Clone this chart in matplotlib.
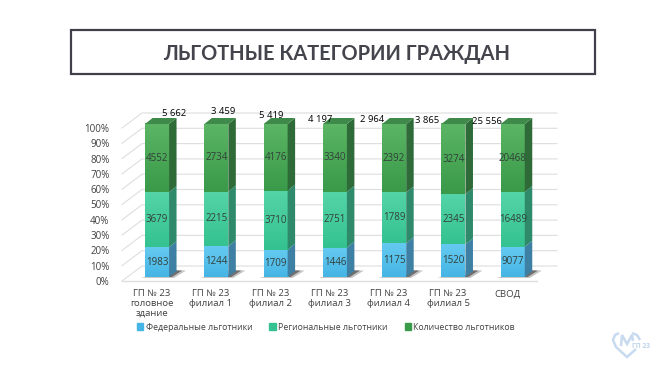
import matplotlib
matplotlib.use('Agg')
import matplotlib.pyplot as plt
import numpy as np
from matplotlib.colors import LinearSegmentedColormap
from matplotlib.patches import Patch, Polygon, Rectangle, PathPatch
from matplotlib.path import Path

plt.rcParams['font.family'] = ['Open Sans', 'DejaVu Sans']

W, H = 657, 369

# data
categories = ['ГП № 23\nголовное\nздание', 'ГП № 23\nфилиал 1', 'ГП № 23\nфилиал 2',
              'ГП № 23\nфилиал 3', 'ГП № 23\nфилиал 4', 'ГП № 23\nфилиал 5', 'СВОД']
federal = [1983, 1244, 1709, 1446, 1175, 1520, 9077]
regional = [3679, 2215, 3710, 2751, 1789, 2345, 16489]
total = [4552, 2734, 4176, 3340, 2392, 3274, 20468]
sum_labels = ['5 662', '3 459', '5 419', '4 197', '2 964', '3 865', '25 556']
series_names = ['Федеральные льготники', 'Региональные льготники', 'Количество льготников']

# hand placed boxes of the sum labels, pixels
sum_xy = [(174, 113), (223, 112), (271, 115), (320, 119), (372, 120), (427, 120.5), (487, 121)]

# top colour, bottom colour, side colour
styles = [('#66caf0', '#45b5e5', '#3d80a4'),
          ('#55d4a8', '#34c290', '#2f8a6c'),
          ('#5bb564', '#399a49', '#2f6b38')]
cap_color = '#3f8a4a'
text_color = '#404040'
grid_color = '#dedede'

fig = plt.figure(figsize=(W / 100, H / 100), dpi=100, facecolor='white')
ax = fig.add_axes([122 / W, 1 - 281 / H, 415 / W, 153 / H])
for s in ax.spines.values():
    s.set_visible(False)


def px(x, y):
    return x / W, 1 - y / H


# title box
fig.add_artist(Rectangle(px(71, 74), 524 / W, 44 / H, transform=fig.transFigure,
                         fc='white', ec='#40404a', lw=1.6))
fig.text(*px(337, 54), 'ЛЬГОТНЫЕ КАТЕГОРИИ ГРАЖДАН', fontsize=14.4, fontweight='bold',
         family=['Lato', 'DejaVu Sans'], color='#44444c', ha='center', va='center')

# depth of the 3d box in data units
unit_x = 415 / 7
unit_y = 153 / 100
wall_dx, wall_dy = 20 / unit_x, 15 / unit_y
bar_w = 24 / unit_x
bar_off_x, bar_off_y = 5.4 / unit_x, 4 / unit_y
dep_x, dep_y = 7.5 / unit_x, 6 / unit_y

# walls
x0, x1 = -0.5, 6.5
for t in range(0, 101, 10):
    ax.plot([x0, x0 + wall_dx, x1 + wall_dx], [t, t + wall_dy, t + wall_dy],
            color=grid_color, lw=0.8, clip_on=False, zorder=1)
ax.plot([x0, x1], [0, 0], color=grid_color, lw=1.0, clip_on=False, zorder=1)

# bars
for i in range(len(categories)):
    vals = np.array([federal[i], regional[i], total[i]], dtype=float)
    shares = vals / vals.sum() * 100
    left = i - bar_w / 2 + bar_off_x
    right = left + bar_w
    floor = bar_off_y

    # shadow on the floor, a dark core and a paler rim
    ax.add_patch(Polygon([(left - 4 / unit_x, floor - 0.6), (right + 5 / unit_x, floor - 0.6),
                          (right + 17 / unit_x, floor + 4.2), (right + 2 / unit_x, floor + 4.6)],
                         fc='#c4c4c4', ec='none', zorder=2, clip_on=False))
    ax.add_patch(Polygon([(right - 1 / unit_x, floor), (right + 3 / unit_x, floor),
                          (right + 13 / unit_x, floor + 4.2), (right + 3 / unit_x, floor + 4.4)],
                         fc='#6f6f6f', ec='none', zorder=2.5, clip_on=False))

    bottom = floor
    for j, h in enumerate(shares):
        c_top, c_bot, c_side = styles[j]
        top = bottom + h
        cmap = LinearSegmentedColormap.from_list('g', [c_top, c_bot])
        ax.imshow(np.linspace(0, 1, 64).reshape(-1, 1), cmap=cmap, aspect='auto',
                  extent=(left, right, bottom, top), origin='upper', zorder=3 + i * 0.1, clip_on=False)
        side = Polygon([(right, bottom), (right + dep_x, bottom + dep_y),
                        (right + dep_x, top + dep_y), (right, top)],
                       fc=c_side, ec='none', zorder=3 + i * 0.1, clip_on=False)
        ax.add_patch(side)
        ax.text((left + right) / 2, (bottom + top) / 2, str(int(vals[j])), ha='center', va='center',
                fontsize=7, color='#333f3a', zorder=5)
        bottom = top
    ax.add_patch(Polygon([(left, bottom), (right, bottom), (right + dep_x, bottom + dep_y),
                          (left + dep_x, bottom + dep_y)], fc=cap_color, ec='none',
                         zorder=3 + i * 0.1, clip_on=False))

for lab, (x, y) in zip(sum_labels, sum_xy):
    fig.text(*px(x, y), lab, fontsize=6.8, color='black', ha='center', va='center', zorder=6)

ax.set_xlim(x0, x1)
ax.set_ylim(0, 100)
ax.set_xticks(range(len(categories)))
ax.set_xticklabels(categories, fontsize=6.8, color=text_color, linespacing=1.1)
ax.set_yticks(range(0, 101, 10))
ax.set_yticklabels([f'{t}%' for t in range(0, 101, 10)], fontsize=7, color=text_color)
ax.tick_params(length=0)
ax.tick_params(axis='x', pad=6)
ax.tick_params(axis='y', pad=9)

handles = [Patch(color=styles[k][1], label=series_names[k]) for k in range(3)]
fig.legend(handles=handles, ncols=3, loc='center', bbox_to_anchor=px(326, 327), frameon=False,
           fontsize=6.3, labelcolor=text_color, handlelength=0.7, handleheight=0.7,
           handletextpad=0.3, columnspacing=1.95, borderpad=0)

# logo
logo_parts = [[(636, 349), (627, 357), (616, 347), (613, 340), (615, 335), (619, 333)],
              [(621, 346), (622, 335), (627, 344), (632, 335), (633, 341)],
              [(632, 333), (637, 335), (640, 340)]]
for part in logo_parts:
    codes = [Path.MOVETO] + [Path.LINETO] * (len(part) - 1)
    fig.add_artist(PathPatch(Path([px(*p) for p in part], codes), transform=fig.transFigure,
                             fc='none', ec='#c8daf0', lw=1.8))
fig.text(*px(641, 346.5), 'ГП 23', fontsize=4.8, fontweight='bold', color='#bcd2ec', ha='center', va='center')

fig.savefig('out.png', dpi=100)
